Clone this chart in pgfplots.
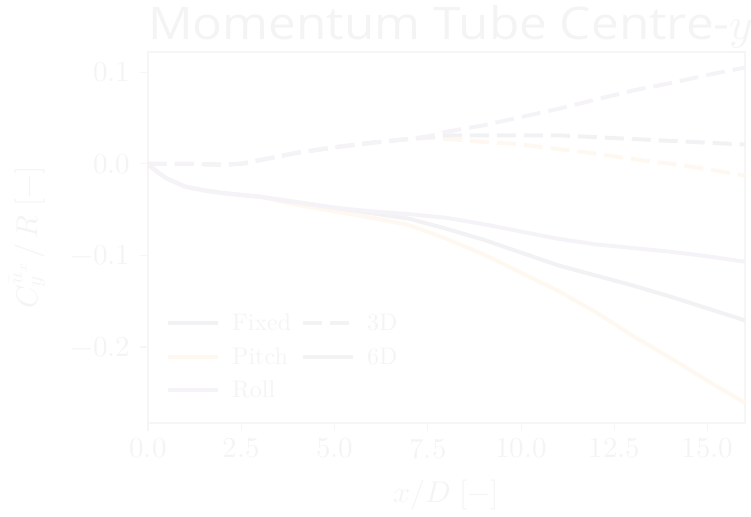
\documentclass[border=0pt]{standalone}
\usepackage{pgfplots}
\pgfplotsset{compat=1.18}
\usepackage{unicode-math}
\setmainfont{lmroman10-regular.otf}
\setmathfont{Latin Modern Math}
\newfontfamily\titlefont{Open Sans}[FakeStretch=1.1]
\definecolor{tc}{HTML}{F4F4F4}
\definecolor{ac}{HTML}{F6F6F6}
\definecolor{cfix}{HTML}{F2F2F5}
\definecolor{cpit}{HTML}{FEF8F0}
\definecolor{crol}{HTML}{F5F3F7}
\definecolor{cneu}{HTML}{F3F3F3}
\begin{document}
\begin{tikzpicture}
\path[use as bounding box] (-148pt,-93pt) rectangle (603pt,423pt);
\clip (-148pt,-93pt) rectangle (603pt,423pt);
\begin{axis}[
  name=ax,
  scale only axis, width=597pt, height=371pt,
  at={(0pt,0pt)}, anchor=south west,
  xmin=0, xmax=16, ymin=-0.283, ymax=0.122,
  xtick={0,2.5,5,7.5,10,12.5,15},
  ytick={-0.2,-0.1,0,0.1},
  /pgf/number format/fixed, /pgf/number format/fixed zerofill, /pgf/number format/precision=1,
  tick label style={font=\fontsize{29}{34}\selectfont, text=tc},
  xticklabel style={yshift=-4pt},
  yticklabel style={xshift=-6pt},
  tick align=outside, major tick length=8pt,
  xtick pos=bottom, ytick pos=left,
  tick style={draw=ac, line width=1.2pt},
  axis line style={draw=ac, line width=1.2pt},
  label style={font=\fontsize{30}{36}\selectfont, text=tc},
  xlabel={$x/D\;[-]$},
  ylabel={$C_y^{\bar{u}_x}\,/\,R\;[-]$},
  xlabel shift=14pt, ylabel shift=18pt,
  legend columns=2,
  legend cell align=left,
  legend image code/.code={\draw[#1] (0pt,0pt) -- (50pt,0pt);},
  legend style={draw=none, fill=none, font=\fontsize{24}{28}\selectfont, text=tc,
    at={(0,0)}, anchor=south west, xshift=15pt, yshift=20pt, row sep=11pt,
    /tikz/every odd column/.append style={column sep=10pt},
    /tikz/every even column/.append style={column sep=8pt}},
  every axis plot/.append style={line width=4pt},
]
% legend entries (column-major order like the reference)
\addlegendimage{cfix, line width=4pt}
\addlegendentry{Fixed}
\addlegendimage{cneu, line width=4pt, dash pattern=on 19pt off 8pt}
\addlegendentry{3D}
\addlegendimage{cpit, line width=4pt}
\addlegendentry{Pitch}
\addlegendimage{cneu, line width=4pt}
\addlegendentry{6D}
\addlegendimage{crol, line width=4pt}
\addlegendentry{Roll}

% 3D (dashed)
\addplot[cpit, dash pattern=on 19pt off 8pt, forget plot] coordinates {
(0,0) (1,0.000) (2,-0.001) (2.5,0.000) (3,0.004) (3.5,0.008) (4,0.012) (5,0.018) (6,0.023) (7,0.027) (7.5,0.028) (8,0.027) (9,0.024) (10,0.021) (11,0.016) (12,0.011) (13,0.005) (14,0.000) (15,-0.006) (16,-0.013)};
\addplot[cfix, dash pattern=on 19pt off 8pt, forget plot] coordinates {
(0,0) (1,0.000) (2,-0.001) (2.5,0.000) (3,0.004) (3.5,0.008) (4,0.012) (5,0.018) (6,0.023) (7,0.027) (7.5,0.029) (8,0.031) (9,0.031) (10,0.031) (11,0.031) (12,0.029) (13,0.027) (14,0.025) (15,0.023) (16,0.021)};
\addplot[crol, dash pattern=on 19pt off 8pt, forget plot] coordinates {
(0,0) (1,0.000) (2,-0.001) (2.5,0.000) (3,0.004) (3.5,0.008) (4,0.012) (5,0.018) (6,0.023) (7,0.027) (7.5,0.030) (8,0.035) (9,0.042) (10,0.051) (11,0.060) (12,0.070) (13,0.080) (14,0.088) (15,0.097) (16,0.105)};
% 6D (solid)
\addplot[cpit, forget plot] coordinates {
(0,0) (0.25,-0.009) (0.5,-0.016) (1,-0.025) (1.5,-0.029) (2,-0.032) (3,-0.036) (4,-0.045) (5,-0.052) (6,-0.059) (7,-0.067) (8,-0.082) (9,-0.099) (10,-0.119) (11,-0.139) (12,-0.162) (13,-0.188) (14,-0.212) (15,-0.237) (16,-0.261)};
\addplot[cfix, forget plot] coordinates {
(0,0) (0.25,-0.009) (0.5,-0.016) (1,-0.025) (1.5,-0.029) (2,-0.032) (3,-0.036) (4,-0.042) (5,-0.048) (6,-0.054) (7,-0.060) (8,-0.071) (9,-0.083) (10,-0.097) (11,-0.111) (12,-0.122) (13,-0.133) (14,-0.145) (15,-0.158) (16,-0.171)};
\addplot[crol, forget plot] coordinates {
(0,0) (0.25,-0.009) (0.5,-0.016) (1,-0.025) (1.5,-0.029) (2,-0.032) (3,-0.036) (4,-0.042) (5,-0.048) (6,-0.052) (7,-0.055) (8,-0.059) (9,-0.066) (10,-0.074) (11,-0.082) (12,-0.088) (13,-0.092) (14,-0.096) (15,-0.101) (16,-0.107)};
\end{axis}
\node[anchor=base west, font=\titlefont\fontsize{45}{54}\selectfont, text=tc, inner sep=0pt]
  at ([yshift=12pt]ax.north west) {Momentum Tube Centre-$y$};
\end{tikzpicture}
\end{document}
